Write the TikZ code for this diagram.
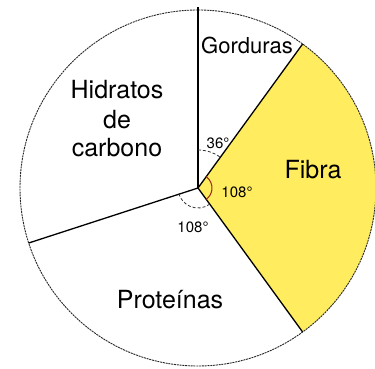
\documentclass[tikz,border=0pt]{standalone}
\usepackage{fontspec}
\setmainfont{TeX Gyre Heros}
\usetikzlibrary{calc}
\definecolor{fibra}{RGB}{255,236,95}
\definecolor{arcred}{RGB}{150,40,20}
\begin{document}
\begin{tikzpicture}[x=1pt,y=1pt,
  sector/.style={line width=1.3pt,black},
  rim/.style={line width=0.9pt,dash pattern=on 2pt off 0.8pt,black!85},
  bigtxt/.style={font=\fontsize{25}{29}\selectfont,inner sep=0pt},
  angtxt/.style={font=\fontsize{15}{17}\selectfont,inner sep=0pt},
  angarc/.style={line width=0.8pt,densely dashed,black!80}]
\useasboundingbox (0,0) rectangle (375,369);
\coordinate (C) at (198,181);
\def\R{178}
% Fibra sector
\fill[fibra] (C) -- ++(54:\R) arc[start angle=54,end angle=-54,radius=\R] -- cycle;
% rim
\draw[rim] (C) circle[radius=\R];
% sector lines
\coordinate (Top) at (198,362);
\coordinate (A54) at ($(C)+(54:\R)$);
\coordinate (Am54) at ($(C)+(-54:\R)$);
\coordinate (Am162) at ($(C)+(-162:\R)$);
\draw[sector] (C) -- (Top);
\draw[sector] (C) -- (A54);
\draw[sector] (C) -- (Am54);
\draw[sector] (C) -- (Am162);
% angle arcs
\draw[angarc] ($(C)+(90:38)$) arc[start angle=90,end angle=54,radius=38];
\draw[line width=1pt,arcred] ($(C)+(54:14)$) arc[start angle=54,end angle=-54,radius=14];
\draw[angarc] ($(C)+(-54:20)$) arc[start angle=-54,end angle=-162,radius=20];
% labels
\node[angtxt] (a36) at (218,226) {36°};
\node[angtxt] (a108f) at (237,177) {108°};
\node[angtxt] (a108p) at (193,142) {108°};
\node[bigtxt,font=\fontsize{22}{26}\selectfont] (gord) at (247,324) {Gorduras};
\node[bigtxt] (hid1) at (117,279) {Hidratos};
\node[bigtxt] (hid2) at (117,249) {de};
\node[bigtxt] (hid3) at (117,221) {carbono};
\node[bigtxt] (fib) at (313,199) {Fibra};
\node[bigtxt] (prot) at (170,69) {Proteínas};
\end{tikzpicture}
\end{document}
